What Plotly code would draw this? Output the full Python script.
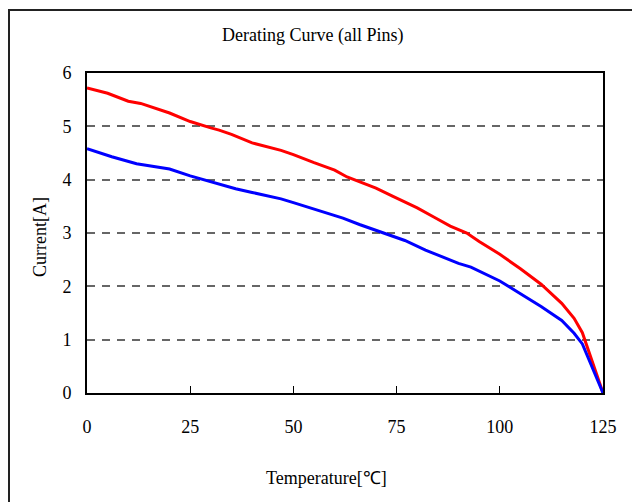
import plotly.graph_objects as go

title_text = "Derating Curve (all Pins)"
x_title = "Temperature[℃]"
y_title = "Current[A]"

temp_red = [0, 5, 10, 13, 20, 25, 30, 32, 35, 40, 47, 50, 55, 60, 63, 67, 70, 74, 80, 84, 88, 92, 95, 100, 105, 110, 115, 118, 120, 125]
curr_red = [5.72, 5.62, 5.47, 5.43, 5.25, 5.09, 4.97, 4.93, 4.85, 4.69, 4.55, 4.47, 4.32, 4.18, 4.05, 3.93, 3.84, 3.69, 3.47, 3.30, 3.13, 3.00, 2.84, 2.60, 2.33, 2.04, 1.68, 1.40, 1.13, 0.0]

temp_blue = [0, 6, 12, 20, 25, 30, 32, 36, 40, 47, 50, 55, 57, 62, 66, 72, 77, 82, 86, 90, 93, 97, 100, 105, 110, 115, 118, 120, 125]
curr_blue = [4.58, 4.43, 4.30, 4.20, 4.07, 3.96, 3.93, 3.83, 3.76, 3.64, 3.57, 3.45, 3.41, 3.28, 3.16, 3.00, 2.86, 2.68, 2.56, 2.43, 2.36, 2.22, 2.10, 1.86, 1.62, 1.36, 1.12, 0.92, 0.0]

x_ticks = [0, 25, 50, 75, 100, 125]
y_ticks = [0, 1, 2, 3, 4, 5, 6]

FONT = "Liberation Serif"

fig = go.Figure()
fig.add_trace(go.Scatter(x=temp_red, y=curr_red, mode="lines",
                         line=dict(color="#FF0000", width=3), showlegend=False))
fig.add_trace(go.Scatter(x=temp_blue, y=curr_blue, mode="lines",
                         line=dict(color="#0000FF", width=3), showlegend=False))

fig.update_layout(
    width=632, height=502,
    margin=dict(l=87, r=29, t=73, b=109),
    paper_bgcolor="white", plot_bgcolor="white",
    font=dict(family=FONT, color="black", size=18),
    xaxis=dict(range=[0, 125], tickvals=x_ticks, ticks="inside", ticklen=7,
               tickcolor="black", tickwidth=1, showgrid=False,
               showline=True, linecolor="black", linewidth=2, mirror=True,
               zeroline=False, ticklabelstandoff=16, tickfont=dict(size=18)),
    yaxis=dict(range=[0, 6], tickvals=y_ticks, ticks="", showgrid=True,
               gridcolor="#666666", gridwidth=1.5, griddash="8px,7px",
               showline=True, linecolor="black", linewidth=2, mirror=True,
               zeroline=False, ticklabelstandoff=10, tickfont=dict(size=18)),
    annotations=[
        dict(text=title_text, x=(312 - 87) / 516, y=(393 - 35) / 320,
             xref="paper", yref="paper", showarrow=False,
             xanchor="center", yanchor="middle", font=dict(size=18)),
        dict(text=x_title, x=(326 - 87) / 516, y=(393 - 478) / 320,
             xref="paper", yref="paper", showarrow=False,
             xanchor="center", yanchor="middle", font=dict(size=18)),
        dict(text=y_title, x=(40 - 87) / 516, y=(393 - 237) / 320, textangle=-90,
             xref="paper", yref="paper", showarrow=False,
             xanchor="center", yanchor="middle", font=dict(size=18)),
    ],
    shapes=[
        dict(type="rect", xref="paper", yref="paper",
             x0=(9 - 87) / 516, x1=(650 - 87) / 516,
             y0=(393 - 520) / 320, y1=(393 - 10) / 320,
             line=dict(color="#222222", width=2), layer="below"),
    ],
)

fig.write_html("out.html")
